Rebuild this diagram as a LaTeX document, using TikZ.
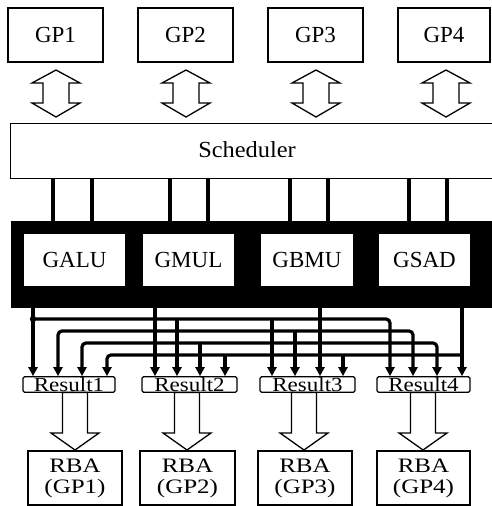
\documentclass[tikz,border=0pt]{standalone}
\usepackage{fontspec}
\setmainfont{Liberation Serif}
\usetikzlibrary{arrows.meta,calc}
\newcommand\hs[2]{\scalebox{#1}[1]{#2}}
\begin{document}
\begin{tikzpicture}[x=1pt,y=-1pt,
  box/.style={draw,line width=1.2pt,inner sep=0pt},
  gpbox/.style={box,minimum height=54pt,font=\fontsize{23}{25}\selectfont},
  unitbox/.style={box,fill=white,minimum height=54pt,font=\fontsize{23}{25}\selectfont},
  resbox/.style={box,rounded corners=1.5pt,minimum height=15.5pt,font=\fontsize{20}{20}\selectfont},
  rbabox/.style={box,minimum height=54pt,align=center,font=\fontsize{20.5}{21}\selectfont},
  sig/.style={line width=3.2pt,-{Triangle[length=9pt,width=9pt]}},
  corner/.style={sig,rounded corners=4pt},
  wire/.style={line width=3.4pt},
  hollow/.style={draw,line width=1.3pt,fill=white,line join=miter},
  darrow/.pic={\draw[hollow] (0,70) -- (24,83) -- (13,83) -- (13,103) -- (24,103) -- (0,117) -- (-24,103) -- (-13,103) -- (-13,83) -- (-24,83) -- cycle;},
  downarrow/.pic={\draw[hollow] (-12.5,392.5) -- (12.5,392.5) -- (12.5,433) -- (24,433) -- (0,450) -- (-24,433) -- (-12.5,433) -- cycle;}]
\clip (0,0) rectangle (492,506);
\fill[white] (0,0) rectangle (492,506);

% GP boxes
\node[gpbox,minimum width=95pt] (gp1) at (55.5,35) {GP1};
\node[gpbox,minimum width=95pt] (gp2) at (185.5,35) {GP2};
\node[gpbox,minimum width=95pt] (gp3) at (315.5,35) {GP3};
\node[gpbox,minimum width=92pt] (gp4) at (444,35) {GP4};

% double arrows
\pic at (56,0) {darrow};
\pic at (186,0) {darrow};
\pic at (316,0) {darrow};
\pic at (446,0) {darrow};

% scheduler (open to the right)
\node[box,minimum width=500pt,minimum height=55pt,anchor=north west] (sched) at (10,123) {};
\node[font=\fontsize{23}{25}\selectfont] (schedtxt) at (247,150) {\hs{1.06}{Scheduler}};

% black unit block
\node[fill=black,inner sep=0pt,minimum width=490pt,minimum height=87pt,anchor=north west] (blk) at (11,221) {};
\node[unitbox,minimum width=103pt] (galu) at (74.5,260) {GALU};
\node[unitbox,minimum width=93pt] (gmul) at (188.5,260) {GMUL};
\node[unitbox,minimum width=94pt] (gbmu) at (307,260) {GBMU};
\node[unitbox,minimum width=93pt] (gsad) at (424.5,260) {GSAD};

% scheduler to units
\foreach \x in {53,92,170,208,290,328,409,447}
  \draw[wire] (\x,0 |- sched.south) -- (\x,0 |- blk.north);

% result boxes
\node[resbox,minimum width=92pt] (r1) at (69,384.5) {\hs{1.15}{Result1}};
\node[resbox,minimum width=95pt] (r2) at (189.5,384.5) {\hs{1.15}{Result2}};
\node[resbox,minimum width=95pt] (r3) at (307.5,384.5) {\hs{1.15}{Result3}};
\node[resbox,minimum width=93pt] (r4) at (423.5,384.5) {\hs{1.15}{Result4}};

% unit outputs
\draw[sig] (33,0 |- blk.south) -- (33,0 |- r1.north);
\draw[sig] (155,0 |- blk.south) -- (155,0 |- r2.north);
\draw[sig] (320,0 |- blk.south) -- (320,0 |- r3.north);
\draw[sig] (462,0 |- blk.south) -- (462,0 |- r4.north);
\coordinate (j1) at (33,319);
\coordinate (j2) at (155,331);
\coordinate (j3) at (320,343);
\coordinate (j4) at (462,355);
\fill (j1) circle (3.2pt);

% bus 1 (GALU)
\draw[corner] (j1) -- (390,319) -- (390,0 |- r4.north);
\draw[sig] (177,319) -- (177,0 |- r2.north);
\draw[sig] (272,319) -- (272,0 |- r3.north);
% bus 2 (GMUL)
\draw[corner] (j2) -- (58,331) -- (58,0 |- r1.north);
\draw[corner] (j2) -- (413,331) -- (413,0 |- r4.north);
\draw[sig] (295,331) -- (295,0 |- r3.north);
% bus 3 (GBMU)
\draw[corner] (j3) -- (82,343) -- (82,0 |- r1.north);
\draw[corner] (j3) -- (437,343) -- (437,0 |- r4.north);
\draw[sig] (200,343) -- (200,0 |- r2.north);
% bus 4 (GSAD)
\draw[corner] (j4) -- (107,355) -- (107,0 |- r1.north);
\draw[sig] (225,355) -- (225,0 |- r2.north);
\draw[sig] (343,355) -- (343,0 |- r3.north);

% down arrows
\pic at (75,0) {downarrow};
\pic at (187,0) {downarrow};
\pic at (304,0) {downarrow};
\pic at (423,0) {downarrow};

% RBA boxes
\node[rbabox,minimum width=94pt] (rba1) at (75,478) {\hs{1.22}{RBA}\\\hs{1.22}{(GP1)}};
\node[rbabox,minimum width=95pt] (rba2) at (187.5,478) {\hs{1.22}{RBA}\\\hs{1.22}{(GP2)}};
\node[rbabox,minimum width=94pt] (rba3) at (305,478) {\hs{1.22}{RBA}\\\hs{1.22}{(GP3)}};
\node[rbabox,minimum width=93pt] (rba4) at (423.5,478) {\hs{1.22}{RBA}\\\hs{1.22}{(GP4)}};
\end{tikzpicture}
\end{document}
